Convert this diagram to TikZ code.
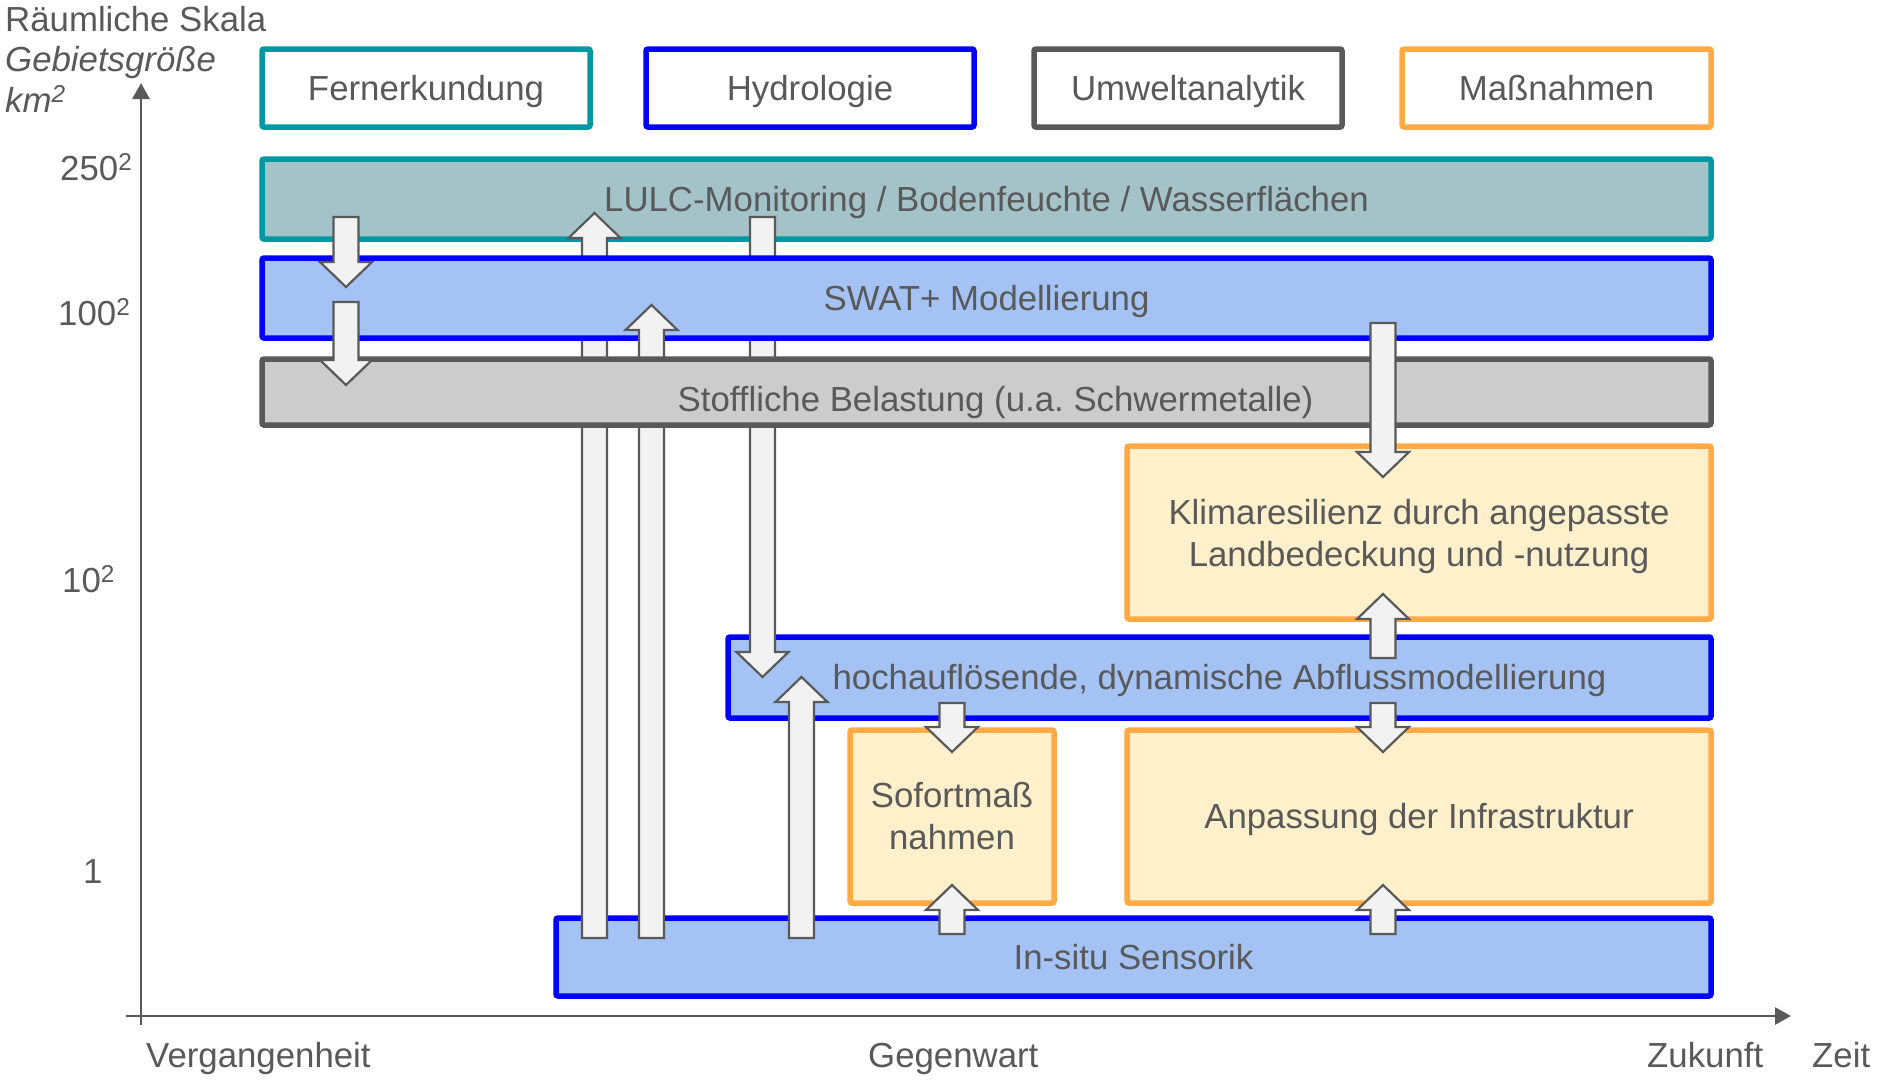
\documentclass[tikz,border=0pt]{standalone}
\usepackage{fontspec}
\setmainfont{Liberation Sans}
\usetikzlibrary{arrows.meta}
\definecolor{txtgray}{RGB}{89,89,89}
\definecolor{tealb}{RGB}{0,152,163}
\definecolor{tealf}{RGB}{163,195,200}
\definecolor{blueb}{RGB}{0,0,255}
\definecolor{bluef}{RGB}{164,194,244}
\definecolor{grayb}{RGB}{89,89,89}
\definecolor{grayf}{RGB}{204,204,204}
\definecolor{orangeb}{RGB}{255,170,68}
\definecolor{orangef}{RGB}{255,240,204}
\definecolor{arrf}{RGB}{242,242,242}
\newcommand\uparr[3]{%
  \draw[blockarr] (#1-12.5,#2) -- (#1-12.5,#3+25) -- (#1-26,#3+25) -- (#1,#3) -- (#1+26,#3+25) -- (#1+12.5,#3+25) -- (#1+12.5,#2) -- cycle;}
\newcommand\dnarr[3]{%
  \draw[blockarr] (#1-12.5,#2) -- (#1-12.5,#3-25) -- (#1-26,#3-25) -- (#1,#3) -- (#1+26,#3-25) -- (#1+12.5,#3-25) -- (#1+12.5,#2) -- cycle;}
\tikzset{
  basefont/.style={font=\fontsize{34.8}{42}\selectfont\frenchspacing, text=txtgray},
  box/.style={basefont, line width=5.5pt, rounded corners=2pt, inner sep=0pt, align=center},
  one/.style={text height=31pt, text depth=7pt},
  tealbox/.style={box, draw=tealb},
  bluebox/.style={box, draw=blueb},
  graybox/.style={box, draw=grayb},
  orangebox/.style={box, draw=orangeb},
  lbl/.style={basefont, inner sep=0pt, anchor=base west},
  blockarr/.style={draw=grayb, fill=arrf, line width=2.2pt, line join=miter},
  axis/.style={draw=grayb, line width=2.8pt, -{Triangle[length=16pt,width=17pt]}}
}
\begin{document}
\begin{tikzpicture}[x=1pt,y=-1pt]
\useasboundingbox (0,0) rectangle (1878,1080);
% axes
\coordinate (vbot) at (141,1025);
\coordinate (vtop) at (141,83);
\coordinate (hl) at (126,1016);
\coordinate (hr) at (1791,1016);
\draw[axis] (vbot) -- (vtop);
\draw[axis] (hl) -- (hr);
% axis labels
\node[lbl] (rs) at (5,31) {Räumliche Skala};
\node[lbl, font=\fontsize{34.8}{42}\selectfont\itshape] (gg) at (5,71) {Gebietsgröße};
\node[lbl, font=\fontsize{34.8}{42}\selectfont\itshape] (km) at (5,112) {km\textsuperscript{2}};
\node[lbl] (l250) at (60,180) {250\textsuperscript{2}};
\node[lbl] (l100) at (58,325) {100\textsuperscript{2}};
\node[lbl] (l10) at (62,592) {10\textsuperscript{2}};
\node[lbl] (l1) at (83,883) {1};
\node[lbl] (verg) at (146,1067) {Vergangenheit};
\node[lbl] (gegen) at (868,1067) {Gegenwart};
\node[lbl] (zuk) at (1647,1067) {Zukunft};
\node[lbl] (zeit) at (1812,1067) {Zeit};
% legend boxes
\node[tealbox, one, fill=white, minimum width=328pt, minimum height=78pt] (fern) at (426,88) {Fernerkundung};
\node[bluebox, one, fill=white, minimum width=328pt, minimum height=78pt] (hydro) at (810,88) {Hydrologie};
\node[graybox, one, fill=white, minimum width=308pt, minimum height=78pt] (umwelt) at (1188,88) {Umweltanalytik};
\node[orangebox, one, fill=white, minimum width=309pt, minimum height=78pt] (mass) at (1556.5,88) {Maßnahmen};
% bottom-layer bands
\node[tealbox, one, fill=tealf, minimum width=1449pt, minimum height=80pt] (lulc) at (986.5,199) {LULC-Monitoring / Bodenfeuchte / Wasserflächen};
\node[bluebox, one, fill=bluef, minimum width=1155pt, minimum height=78pt] (insitu) at (1133.5,957) {In-situ Sensorik};
\node[bluebox, one, fill=bluef, minimum width=983pt, minimum height=81pt] (hoch) at (1219.5,677.5) {hochauflösende, dynamische Abflussmodellierung};
\node[orangebox, fill=orangef, minimum width=204pt, minimum height=173pt] (sofort) at (952,816.5) {Sofortmaß\\nahmen};
\node[orangebox, one, fill=orangef, minimum width=584pt, minimum height=173pt] (anpass) at (1419,816.5) {Anpassung der Infrastruktur};
\node[orangebox, text depth=0pt, fill=orangef, minimum width=584pt, minimum height=173pt] (klima) at (1419,532.5) {Klimaresilienz durch angepasste\\Landbedeckung und -nutzung};
% long arrows behind upper bands
\uparr{594.5}{938}{213}
\dnarr{762.5}{217}{677}
\uparr{801.5}{938}{677}
\node[bluebox, one, fill=bluef, minimum width=1449pt, minimum height=80pt] (swat) at (986.5,298) {SWAT+ Modellierung};
\uparr{651.5}{938}{305}
\node[graybox, text height=38pt, text depth=0pt, fill=grayf, minimum width=1449pt, minimum height=66pt] (stoff) at (986.5,392) {\hspace*{18pt}Stoffliche Belastung (u.a. Schwermetalle)};
% short arrows on top
\dnarr{346}{217}{287}
\dnarr{346}{302}{385}
\dnarr{952}{703}{752}
\uparr{952}{934}{885}
\dnarr{1383}{323}{477}
\uparr{1383}{658}{594}
\dnarr{1383}{703}{752}
\uparr{1383}{934}{885}
\end{tikzpicture}
\end{document}
